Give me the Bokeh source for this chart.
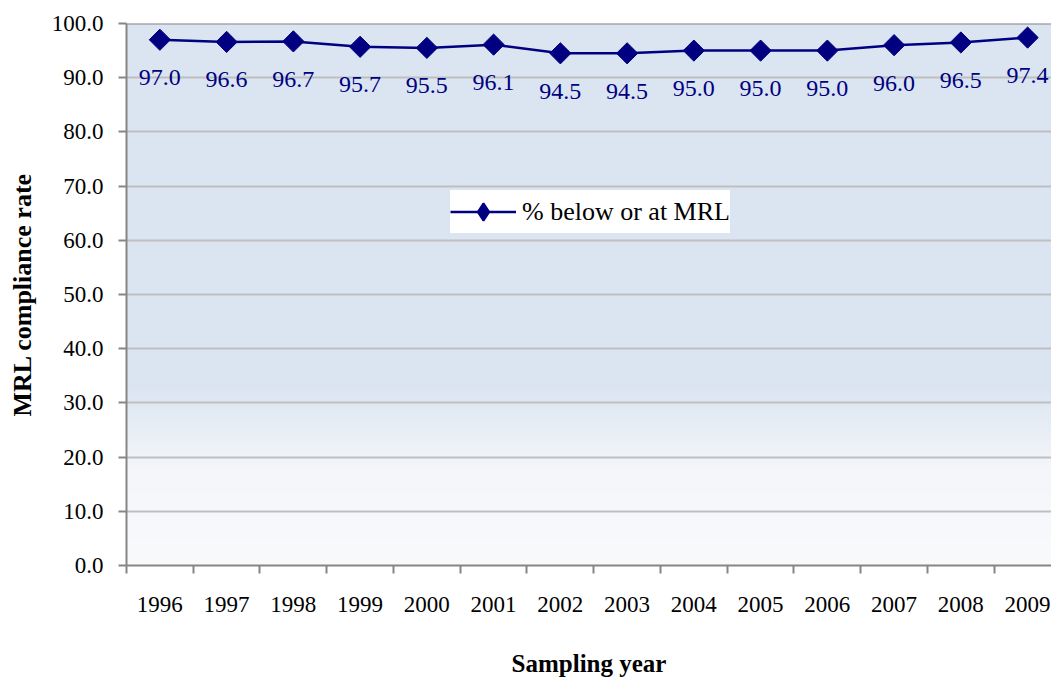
import numpy as np
from bokeh.plotting import figure
from bokeh.models import (FixedTicker, Range1d, Span, Legend, LegendItem,
                          CustomJSTickFormatter, PrintfTickFormatter)
from bokeh.core.properties import value
from bokeh.embed import file_html
from bokeh.resources import INLINE

# ---- data ----
years = ["1996", "1997", "1998", "1999", "2000", "2001", "2002",
         "2003", "2004", "2005", "2006", "2007", "2008", "2009"]
compliance = [97.0, 96.6, 96.7, 95.7, 95.5, 96.1, 94.5,
              94.5, 95.0, 95.0, 95.0, 96.0, 96.5, 97.4]
y_ticks = [0, 10, 20, 30, 40, 50, 60, 70, 80, 90, 100]
series_name = "% below or at MRL"
x_title = "Sampling year"
y_title = "MRL compliance rate"

FONT = "Liberation Serif"
NAVY = "#000080"
AXIS_GRAY = "#868686"
GRID_GRAY = "#BFBFBF"

xpos = [i + 0.5 for i in range(len(years))]
point_labels = [f"{v:.1f}" for v in compliance]

p = figure(width=1051, height=680, output_backend="svg", toolbar_location=None,
           x_range=Range1d(0, 13.858), y_range=Range1d(0, 100),
           min_border_left=126, min_border_right=0, min_border_top=23,
           min_border_bottom=115)
p.outline_line_color = None
p.background_fill_color = "white"
p.border_fill_color = "white"

# ---- gradient background of plot area ----
N = 500
vals = np.linspace(0, 100, N)
stops_v = [0, 18, 33, 100]
stops_c = np.array([[248, 250, 252], [244, 246, 250], [219, 229, 241], [219, 229, 241]], dtype=float)
img = np.zeros((N, 1), dtype=np.uint32)
view = img.view(dtype=np.uint8).reshape((N, 1, 4))
for k in range(3):
    view[:, 0, k] = np.interp(vals, stops_v, stops_c[:, k]).astype(np.uint8)
view[:, 0, 3] = 255
p.image_rgba(image=[img], x=0, y=0, dw=len(years), dh=100, level="image")

# ---- grid ----
p.xgrid.visible = False
p.ygrid.ticker = FixedTicker(ticks=y_ticks)
p.ygrid.grid_line_color = GRID_GRAY
p.ygrid.grid_line_width = 2
p.add_layout(Span(location=100, dimension="width", line_color=AXIS_GRAY, line_width=2))

# ---- axes ----
ya = p.yaxis[0]
ya.ticker = FixedTicker(ticks=y_ticks)
ya.formatter = PrintfTickFormatter(format="%.1f")
ya.axis_line_color = AXIS_GRAY
ya.axis_line_width = 2
ya.major_tick_line_color = AXIS_GRAY
ya.major_tick_line_width = 2
ya.major_tick_out = 8
ya.major_tick_in = 0
ya.minor_tick_line_color = None
ya.major_label_standoff = 15
ya.major_label_text_font = FONT
ya.major_label_text_font_size = "23px"
ya.major_label_text_color = "black"
ya.axis_label = y_title
ya.axis_label_text_font = FONT
ya.axis_label_text_font_size = "26px"
ya.axis_label_text_font_style = "bold"
ya.axis_label_text_color = "black"
ya.axis_label_standoff = 12

xa = p.xaxis[0]
xa.ticker = FixedTicker(ticks=xpos, minor_ticks=list(range(len(years) + 1)))
xa.formatter = CustomJSTickFormatter(args=dict(years=years),
                                     code="return years[Math.floor(tick)];")
xa.axis_line_color = AXIS_GRAY
xa.axis_line_width = 2
xa.major_tick_line_color = None
xa.major_tick_out = 0
xa.major_tick_in = 0
xa.minor_tick_line_color = AXIS_GRAY
xa.minor_tick_line_width = 2
xa.minor_tick_out = 8
xa.minor_tick_in = 0
xa.major_label_standoff = 23
xa.major_label_text_font = FONT
xa.major_label_text_font_size = "23px"
xa.major_label_text_color = "black"
xa.axis_label = x_title
xa.axis_label_text_font = FONT
xa.axis_label_text_font_size = "25px"
xa.axis_label_text_font_style = "bold"
xa.axis_label_text_color = "black"
xa.axis_label_standoff = 35

# ---- series ----
line_r = p.line(xpos, compliance, line_color=NAVY, line_width=2.5)
# small diamond hidden under the main markers; it supplies the legend key glyph
key_r = p.scatter(xpos, compliance, marker="diamond", size=10,
                  fill_color=NAVY, line_color=NAVY, line_width=2)
sc_r = p.scatter(xpos, compliance, marker="square", angle=np.pi / 4, size=15,
                 fill_color=NAVY, line_color=NAVY)
p.text(xpos, compliance, text=point_labels, text_font=value(FONT),
       text_font_size="24px", text_color=NAVY, text_align="center",
       text_baseline="middle", y_offset=38)

legend = Legend(items=[LegendItem(label=series_name, renderers=[line_r, key_r])],
                location=(324, 332), orientation="vertical",
                label_text_font=FONT, label_text_font_size="26px",
                label_text_color="black", glyph_width=66, glyph_height=43,
                label_standoff=6, padding=0, margin=0, spacing=0,
                border_line_color=None, background_fill_color="white",
                background_fill_alpha=1.0)
p.add_layout(legend)

open("out.html", "w").write(file_html(p, INLINE))
